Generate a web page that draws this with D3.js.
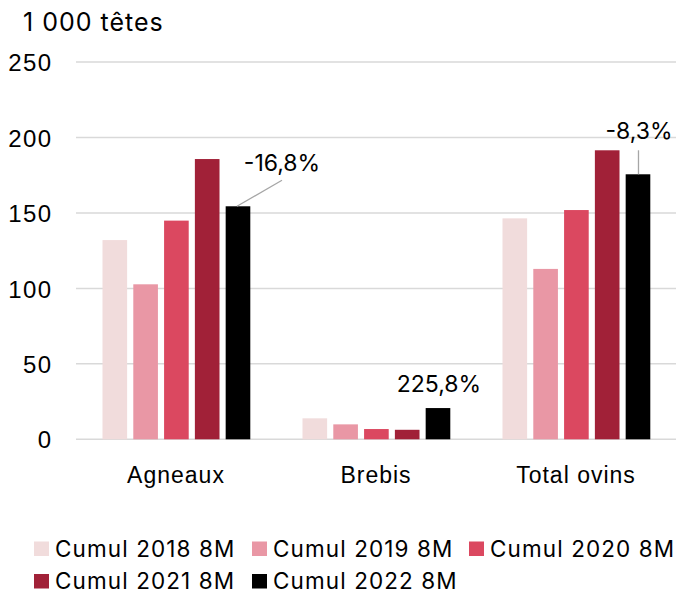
<!DOCTYPE html>
<html><head><meta charset="utf-8">
<script src="https://cdn.jsdelivr.net/npm/d3@7"></script>
<style>
html,body{margin:0;padding:0;background:#fff;}
svg{display:block;font-family:Inter, "Noto Sans", sans-serif;}
</style></head>
<body>
<svg id="chart" width="676" height="594"></svg>
<script>
const categories = ["Agneaux", "Brebis", "Total ovins"];
const seriesNames = ["Cumul 2018 8M", "Cumul 2019 8M", "Cumul 2020 8M", "Cumul 2021 8M", "Cumul 2022 8M"];
const cumul2018 = [132.0, 13.9, 146.4];
const cumul2019 = [102.7, 9.9, 112.9];
const cumul2020 = [144.9, 6.8, 151.9];
const cumul2021 = [185.7, 6.3, 191.5];
const cumul2022 = [154.4, 20.7, 175.6];
const evolutionLabels = ["-16,8%", "225,8%", "-8,3%"];
const yTicks = [0, 50, 100, 150, 200, 250];
const unitLabel = "1 000 têtes";
const colors = ["#f1dcdc", "#e997a5", "#db4860", "#a12138", "#000000"];

const series = [cumul2018, cumul2019, cumul2020, cumul2021, cumul2022];

const svg = d3.select("#chart");
const x0 = d3.scaleBand().domain(categories).range([76, 676]).padding(0);
const x1 = d3.scaleBand().domain(d3.range(series.length)).range([26.5, 174.3]).paddingInner(0.2).paddingOuter(0);
const y = d3.scaleLinear().domain([0, 250]).range([439.3, 62]);

// gridlines
svg.append("g").selectAll("line").data(yTicks).join("line")
  .attr("x1", 76).attr("x2", 676)
  .attr("y1", d => y(d)).attr("y2", d => y(d))
  .attr("stroke", "#d9d9d9").attr("stroke-width", 1.5);

// y axis labels
const yAxis = d3.axisLeft(y).tickValues(yTicks).tickSize(0).tickPadding(0).tickFormat(d3.format("d"));
const ga = svg.append("g").attr("transform", "translate(52.5,0)").call(yAxis);
ga.select(".domain").remove();
ga.selectAll("text").attr("font-size", 24).attr("letter-spacing", 1.4).attr("fill", "#000")
  .attr("font-family", null).attr("dy", "0.36em");

// unit label
svg.append("text").attr("x", 23).attr("y", 30.5).attr("font-size", 25).attr("letter-spacing", 1)
  .attr("fill", "#000").text(unitLabel);

// bars
const groups = svg.append("g").selectAll("g").data(categories).join("g")
  .attr("transform", d => `translate(${x0(d)},0)`);
groups.selectAll("rect").data((c, ci) => series.map((s, si) => ({si, v: s[ci]}))).join("rect")
  .attr("x", d => x1(d.si)).attr("width", x1.bandwidth())
  .attr("y", d => y(d.v)).attr("height", d => y(0) - y(d.v))
  .attr("fill", d => colors[d.si]);

// category labels
const xAxis = d3.axisBottom(x0).tickSize(0).tickPadding(0);
const gx = svg.append("g").attr("transform", "translate(0,483)").call(xAxis);
gx.select(".domain").remove();
gx.selectAll("text").attr("font-size", 23).attr("letter-spacing", 1).attr("fill", "#000")
  .attr("font-family", null).attr("dy", 0);

// evolution annotations
const last = series.length - 1;
const barTop = ci => ({x: x0(categories[ci]) + x1(last) + x1.bandwidth() / 2, y: y(series[last][ci])});
// Agneaux: diagonal leader
{
  const b = barTop(0);
  svg.append("line").attr("x1", b.x - 1).attr("y1", b.y).attr("x2", b.x + 44).attr("y2", b.y - 26)
    .attr("stroke", "#a6a6a6").attr("stroke-width", 1.3);
  svg.append("text").attr("x", b.x + 44).attr("y", b.y - 35).attr("text-anchor", "middle")
    .attr("font-size", 23).text(evolutionLabels[0]);
}
// Brebis: no leader
{
  const b = barTop(1);
  svg.append("text").attr("x", b.x + 1).attr("y", b.y - 16.5).attr("text-anchor", "middle")
    .attr("font-size", 23).text(evolutionLabels[1]);
}
// Total: vertical leader
{
  const b = barTop(2);
  svg.append("line").attr("x1", b.x + 0.5).attr("y1", b.y).attr("x2", b.x + 0.5).attr("y2", b.y - 24)
    .attr("stroke", "#a6a6a6").attr("stroke-width", 1.3);
  svg.append("text").attr("x", b.x + 1).attr("y", b.y - 35).attr("text-anchor", "middle")
    .attr("font-size", 23).text(evolutionLabels[2]);
}

// legend
const legendPos = [[34, 541.5], [252, 541.5], [469, 541.5], [34, 574], [252, 574]];
const lg = svg.append("g").selectAll("g").data(seriesNames).join("g")
  .attr("transform", (d, i) => `translate(${legendPos[i][0]},${legendPos[i][1]})`);
lg.append("rect").attr("width", 15).attr("height", 14.5).attr("fill", (d, i) => colors[i]);
lg.append("text").attr("x", 21).attr("y", 15).attr("font-size", 22.5).attr("letter-spacing", 1.1)
  .attr("fill", "#000").text(d => d);
</script>
</body></html>
